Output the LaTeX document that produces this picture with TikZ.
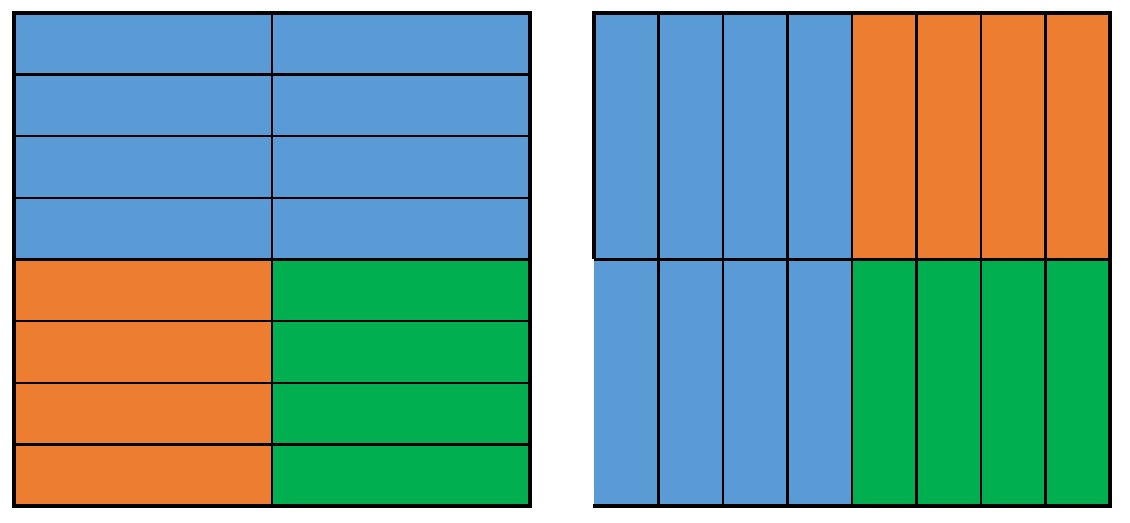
\documentclass[tikz,border=0pt]{standalone}
\definecolor{cellblue}{HTML}{5B9BD5}
\definecolor{cellorange}{HTML}{ED7D31}
\definecolor{cellgreen}{HTML}{00B050}
\tikzset{
    gridline/.style={line width=1.7pt},
    frameline/.style={line width=2.4pt}
}
\begin{document}
\begin{tikzpicture}[x=0.025cm, y=0.025cm]
        \useasboundingbox (0, 0) rectangle (1130, 523);
        % left square: 2 columns, 8 rows
        \fill[cellblue] (14, 263.5) rectangle (530, 510);
        \fill[cellorange] (14, 17) rectangle (272, 263.5);
        \fill[cellgreen] (272, 17) rectangle (530, 263.5);
        \foreach \k in {1,...,7}
            \draw[gridline] (14, 17 + \k*61.625) -- (530, 17 + \k*61.625);
        \draw[gridline] (272, 17) -- (272, 510);
        \draw[frameline] (14, 17) rectangle (530, 510);
        % right square: 8 columns, 2 rows
        \fill[cellblue] (594, 17) rectangle (852, 510);
        \fill[cellorange] (852, 263.5) rectangle (1110, 510);
        \fill[cellgreen] (852, 17) rectangle (1110, 263.5);
        \foreach \k in {1,...,7}
            \draw[gridline] (594 + \k*64.5, 17) -- (594 + \k*64.5, 510);
        \draw[gridline] (594, 263.5) -- (1110, 263.5);
        \draw[frameline] (594, 263.5) -- (594, 510) -- (1110, 510) -- (1110, 17) -- (592.5, 17);
    \end{tikzpicture}
\end{document}
